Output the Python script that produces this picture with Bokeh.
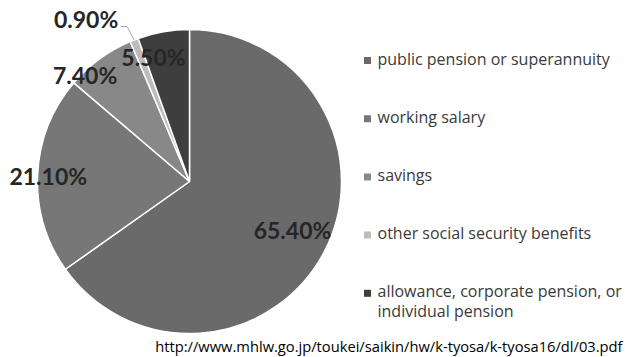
import math
from bokeh.plotting import figure
from bokeh.models import Range1d
from bokeh.core.properties import value
from bokeh.embed import file_html
from bokeh.resources import INLINE

# Sources of income of elderly households (%)
categories = [
    "public pension or superannuity",
    "working salary",
    "savings",
    "other social security benefits",
    "allowance, corporate pension, or\nindividual pension",
]
shares = [65.4, 21.1, 7.4, 0.9, 5.5]
share_labels = ["65.40%", "21.10%", "7.40%", "0.90%", "5.50%"]
colors = ["#6a6a6a", "#777777", "#888888", "#bcbcbc", "#3e3e3e"]
source_url = "http://www.mhlw.go.jp/toukei/saikin/hw/k-tyosa/k-tyosa16/dl/03.pdf"

W, H = 625, 357
cx, cy, R = 189, H - 181, 152

# label placement: angle (deg, clockwise from top) and radius as a fraction of R
label_angle = [115.4, 272.4, 315.5, 327.6, 343.8]
label_rfrac = [0.75, 0.93, 0.98, 1.27, 0.85]

p = figure(width=W, height=H, x_range=Range1d(0, W), y_range=Range1d(0, H),
           output_backend="svg", toolbar_location=None, min_border=0)
p.axis.visible = False
p.grid.visible = False
p.outline_line_color = None
p.background_fill_color = "white"
p.border_fill_color = "white"

total = sum(shares)
starts, ends = [], []
acc = 0.0
for s in shares:
    starts.append(math.pi / 2 - 2 * math.pi * acc / total)
    acc += s
    ends.append(math.pi / 2 - 2 * math.pi * acc / total)

p.wedge(x=[cx] * len(shares), y=[cy] * len(shares), radius=R,
        start_angle=starts, end_angle=ends, direction="clock",
        fill_color=colors, line_color="white", line_width=1.5)

lx = [cx + R * f * math.sin(math.radians(a)) for a, f in zip(label_angle, label_rfrac)]
ly = [cy + R * f * math.cos(math.radians(a)) for a, f in zip(label_angle, label_rfrac)]

# leader line for the thin slice
i = 3
mid = 2 * math.pi * (sum(shares[:i]) + shares[i] / 2) / total
ex, ey = cx + R * math.sin(mid), cy + R * math.cos(mid)
p.line(x=[lx[i] + 35, lx[i] + 41, ex], y=[ly[i] - 8, ly[i] - 8, ey],
       line_color="#a6a6a6", line_width=1)

p.text(x=lx, y=ly, text=share_labels, text_font=value("Lato"),
       text_font_style="bold", text_font_size="23px", text_color="#262626",
       text_align="center", text_baseline="middle")

# legend (multi-line labels hang below their marker row)
leg_x, leg_top, leg_step = 367, H - 60, 58.2
ys = [leg_top - k * leg_step for k in range(len(categories))]
p.rect(x=[leg_x] * len(categories), y=ys, width=7, height=7,
       fill_color=colors, line_color=None)
p.text(x=[leg_x + 10] * len(categories), y=[y + 13 for y in ys], text=categories,
       text_font=value("Open Sans"), text_font_size="16px", text_color="#3a3a3a",
       text_align="left", text_baseline="top", text_line_height=0.9)

p.text(x=[W - 3], y=[H - 345], text=[source_url], text_font=value("Open Sans"),
       text_font_size="14.7px", text_color="#000000",
       text_align="right", text_baseline="middle")

open("out.html", "w").write(file_html(p, INLINE))
